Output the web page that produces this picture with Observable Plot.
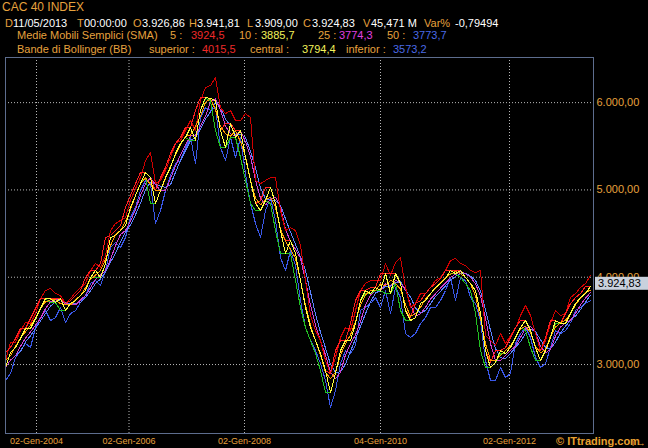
<!DOCTYPE html>
<html>
<head>
<meta charset="utf-8">
<script src="https://cdn.jsdelivr.net/npm/d3@7"></script>
<script src="https://cdn.jsdelivr.net/npm/@observablehq/plot@0.6"></script>
<style>
  html, body { margin: 0; padding: 0; background: #000; }
  #wrap { position: relative; width: 648px; height: 448px; background: #000; overflow: hidden;
          font-family: "Liberation Sans", Arial, sans-serif; }
  #wrap span.t { position: absolute; white-space: pre; }
  #chart { position: absolute; left: 0; top: 56px; }
</style>
</head>
<body>
<div id="wrap"><div id="chart"></div></div>
<script>
// ---- Data (CAC 40 index, one sample per chart step) ----
// BB central / SMA line (core of the band)
const mid = [2966,3137,3195,3298,3412,3412,3527,3641,3756,3756,3710,3756,3619,3699,3733,3790,3848,3997,4077,3997,
  4157,4455,4478,4535,4592,4798,4936,5073,5199,5142,4844,4993,5142,5257,5417,5532,5600,5715,5566,5910,
  6058,6047,6024,5680,5486,5761,5600,5680,5371,5108,4844,4764,4879,5028,4844,4535,4271,4420,4271,3962,
  3653,3424,3275,3126,2931,2679,2897,3160,3275,3275,3470,3733,3848,3813,3882,3848,4042,3813,4042,3928,
  3619,3504,3538,3699,3733,3813,3882,3928,3985,4077,4042,4077,3997,3928,3848,3584,3160,2966,3023,3160,
  3126,3195,3309,3424,3504,3389,3195,3046,3160,3309,3504,3470,3470,3584,3699,3767,3813,3893];
// Bollinger superior band
const upper = [3046,3252,3252,3389,3481,3470,3584,3756,3848,3871,3813,3790,3699,3756,3825,3882,3928,4077,4157,4111,
  4249,4535,4615,4650,4684,4879,5016,5142,5337,5428,5073,5108,5222,5371,5532,5566,5680,5795,5680,6024,
  6173,6196,6288,5944,5875,5910,5795,5795,5875,5829,5108,5073,5108,5142,5142,4764,4535,4569,4535,4363,
  3962,3561,3389,3275,3046,2897,3080,3309,3424,3389,3619,3848,3928,3962,3962,3962,4157,4020,4168,4226,
  3882,3653,3699,3813,3813,3882,3962,3997,4077,4191,4214,4157,4134,4077,4054,4077,3332,3275,3218,3355,
  3241,3332,3412,3561,3676,3561,3355,3160,3275,3470,3619,3561,3584,3767,3813,3882,3928,4020];
// Bollinger inferior band
const lower = [2817,2897,3080,3160,3241,3195,3424,3538,3619,3504,3538,3653,3481,3584,3619,3710,3790,3928,3962,3905,
  4077,4340,4398,4340,4455,4684,4798,4993,5108,5073,4615,4764,4993,5165,5302,5337,5486,5600,5302,5829,
  5944,5910,5944,5486,5337,5600,5371,5600,5188,4844,4615,4455,4764,4913,4650,4226,4077,4306,4134,3733,
  3424,3275,3160,3011,2817,2507,2702,3011,3160,3126,3218,3619,3653,3699,3767,3653,3848,3584,3882,3767,
  3355,3309,3355,3470,3538,3653,3653,3733,3848,3997,3733,3997,3962,3767,3699,3504,3046,2817,2817,2966,
  2851,2897,3241,3355,3424,3309,3080,2966,3011,3195,3389,3355,3389,3470,3619,3653,3699,3733];

const lastClose = 3924.83;
const yTicks = [3000, 4000, 5000, 6000];
const xTickLabels = ["02-Gen-2004", "02-Gen-2006", "02-Gen-2008", "04-Gen-2010", "02-Gen-2012"];
const xTickBars = [6.2, 24.7, 47.8, 75, 100.8];

// header values
const headerLine2 = [
  ["D", "o"], ["11/05/2013", "w"], ["T", "o"], ["00:00:00", "w"], ["O", "o"], ["3.926,86", "w"],
  ["H", "o"], ["3.941,81", "w"], ["L", "o"], ["3.909,00", "w"], ["C", "o"], ["3.924,83", "w"],
  ["V", "o"], ["45,471 M", "w"], ["Var%", "o"], ["-0,79494", "w"]
];
const smaLabels = ["5 :", "10 :", "25 :", "50 :"];
const smaValues = ["3924,5", "3885,7", "3774,3", "3773,7"];
const bbLabels = ["superior :", "central :", "inferior :"];
const bbValues = ["4015,5", "3794,4", "3573,2"];

// ---- Styles ----
const ORANGE = "#e6a23e";
const COL = {o: ORANGE, w: "#ffffff"};
const smaColors = ["#ee2a2a", "#f2f25a", "#e040e0", "#4a6ae6"];
const bbColors = ["#ee2a2a", "#f2f25a", "#4a6ae6"];

const wrap = document.getElementById("wrap");
function txt(s, x, baseline, color, size, weight) {
  const el = document.createElement("span");
  el.className = "t";
  el.textContent = s;
  el.style.left = x + "px";
  el.style.fontSize = size + "px";
  el.style.lineHeight = (size * 1.117) + "px";
  el.style.top = (baseline - size * 0.905) + "px";
  el.style.color = color;
  if (weight) el.style.fontWeight = weight;
  wrap.appendChild(el);
}
txt("CAC 40 INDEX", 2, 12, ORANGE, 12);
const l2x = [5, 13, 77, 84, 133, 142, 189, 197, 247, 255, 303, 312, 363, 371, 424, 455];
headerLine2.forEach(([s, c], i) => txt(s, l2x[i], 27, COL[c], 11));
txt("Medie Mobili Semplici (SMA)", 17, 39, ORANGE, 11);
const smaLx = [170, 239, 318, 387], smaVx = [191, 261, 339, 413];
smaLabels.forEach((s, i) => { txt(s, smaLx[i], 39, ORANGE, 11); txt(smaValues[i], smaVx[i], 39, smaColors[i], 11); });
txt("Bande di Bollinger (BB)", 17, 53, ORANGE, 11);
const bbLx = [149, 250, 346], bbVx = [202, 302, 393];
bbLabels.forEach((s, i) => { txt(s, bbLx[i], 53, ORANGE, 11); txt(bbValues[i], bbVx[i], 53, bbColors[i], 11); });
txt("© ITtrading.com", 556, 445, "#e8a030", 11, "bold");

// ---- Chart ----
const rows = mid.map((v, i) => ({i, mid: v, upper: upper[i], lower: lower[i]}));
const it = d3.formatLocale({decimal: ",", thousands: ".", grouping: [3], currency: ["", "€"]}).format(",.2f");
const grid = {stroke: "#b8b8b8", strokeOpacity: 1, strokeDasharray: "1,2"};
const ln = {strokeWidth: 1, shapeRendering: "crispEdges"};

const plot = Plot.plot({
  width: 648, height: 392,
  marginLeft: 5, marginRight: 55, marginTop: 1, marginBottom: 15,
  style: {background: "#000", color: ORANGE, fontFamily: "Liberation Sans, Arial, sans-serif"},
  x: {domain: [0, 117.6], axis: null},
  y: {domain: [2210, 6517], axis: null},
  marks: [
    Plot.gridX(xTickBars, grid),
    Plot.gridY(yTicks, grid),
    Plot.lineY(rows, {x: "i", y: "lower", stroke: "#3a58e8", ...ln}),
    Plot.lineY(rows, Plot.windowY({k: 4, anchor: "end", reduce: "mean"}, {x: "i", y: "mid", stroke: "#5a82ff", ...ln})),
    Plot.lineY(rows, Plot.windowY({k: 3, anchor: "end", reduce: "mean"}, {x: "i", y: "mid", stroke: "#d040d0", ...ln})),
    Plot.lineY(rows, {x: "i", y: "upper", stroke: "#d00000", ...ln}),
    Plot.lineY(rows, Plot.windowY({k: 2, reduce: "min"}, {x: "i", y: "mid", stroke: "#22c022", ...ln})),
    Plot.lineY(rows, Plot.windowY({k: 2, reduce: "max"}, {x: "i", y: "mid", stroke: "#ff2020", ...ln})),
    Plot.lineY(rows, Plot.windowY({k: 3, reduce: "mean"}, {x: "i", y: "mid", stroke: "#ff9a00", ...ln})),
    Plot.lineY(rows, {x: "i", y: "mid", stroke: "#ffff40", ...ln}),
    Plot.frame({stroke: "#5d6d8e"}),
    Plot.axisY(yTicks, {anchor: "right", tickSize: 0, tickPadding: 3, tickFormat: it, fontSize: 11, fill: ORANGE}),
    Plot.axisX(xTickBars, {anchor: "bottom", tickSize: 0, tickPadding: 4, fontSize: 9, fill: ORANGE,
      tickFormat: d => xTickLabels[xTickBars.indexOf(d)]})
  ]
});
document.getElementById("chart").appendChild(plot);

// last-price box on the right axis
const yLast = plot.scale("y").apply(lastClose);
const svg = d3.select(plot);
svg.append("rect").attr("x", 595).attr("y", yLast - 6.5).attr("width", 53).attr("height", 13)
  .attr("fill", "#c9d1dd").attr("stroke", "none");
svg.append("text").attr("x", 598).attr("y", yLast).attr("dy", "0.35em").attr("fill", "#000")
  .attr("text-anchor", "start").attr("font-size", 11)
  .attr("font-family", "Liberation Sans, Arial, sans-serif").text(it(lastClose));
</script>
</body>
</html>
